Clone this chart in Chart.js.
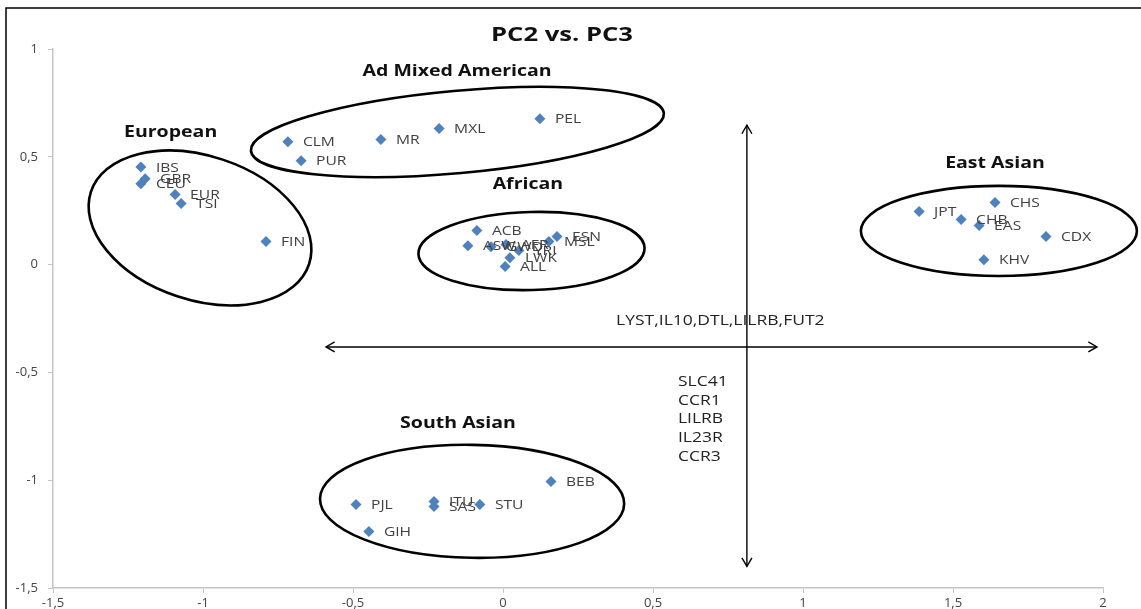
<!DOCTYPE html>
<html>
<head>
<meta charset="utf-8">
<title>PC2 vs. PC3</title>
<script src="https://cdn.jsdelivr.net/npm/chart.js@4.4.1/dist/chart.umd.min.js"></script>
<style>
  html, body { margin: 0; padding: 0; background: #fff; }
  canvas { display: block; }
</style>
</head>
<body>
<canvas id="pcChart" width="1141" height="609"></canvas>
<script>
// population codes with their PC2 (x) and PC3 (y) scores
const popCodes = ['IBS', 'GBR', 'CEU', 'EUR', 'TSI', 'FIN',
  'CLM', 'PUR', 'MR', 'MXL', 'PEL',
  'ACB', 'ASW', 'GWD', 'AFR', 'YRI', 'LWK', 'ALL', 'MSL', 'ESN',
  'JPT', 'CHS', 'CHB', 'EAS', 'CDX', 'KHV',
  'BEB', 'PJL', 'ITU', 'SAS', 'STU', 'GIH'];
const pc2Values = [-1.207, -1.193, -1.207, -1.093, -1.073, -0.79,
  -0.717, -0.673, -0.407, -0.213, 0.123,
  -0.087, -0.117, -0.04, 0.01, 0.053, 0.023, 0.007, 0.153, 0.18,
  1.387, 1.64, 1.527, 1.587, 1.81, 1.603,
  0.16, -0.49, -0.23, -0.23, -0.077, -0.447];
const pc3Values = [0.453, 0.398, 0.375, 0.325, 0.283, 0.107,
  0.57, 0.482, 0.58, 0.631, 0.677,
  0.158, 0.088, 0.083, 0.093, 0.065, 0.032, -0.009, 0.107, 0.13,
  0.246, 0.288, 0.209, 0.181, 0.13, 0.023,
  -1.006, -1.113, -1.099, -1.122, -1.113, -1.238];

const xTickLabels = ['-1,5', '-1', '-0,5', '0', '0,5', '1', '1,5', '2'];
const yTickLabels = ['-1,5', '-1', '-0,5', '0', '0,5', '1'];

// group names and their clusters (centre, half axes in axis units, tilt in degrees)
const groupNames = ['European', 'Ad Mixed American', 'African', 'East Asian', 'South Asian'];
const groupLabelPos = [[-1.108, 0.611], [-0.153, 0.894], [0.083, 0.37], [1.64, 0.471], [-0.15, -0.735]];
const clusterCentres = [[-1.01, 0.17], [-0.152, 0.615], [0.095, 0.063], [1.653, 0.156], [-0.103, -1.098]];
const clusterAxes = [[0.383, 0.334], [0.691, 0.191], [0.377, 0.181], [0.46, 0.209], [0.507, 0.262]];
const clusterTilt = [18.4, -5.2, -1.5, 0, 1];

// gene annotations and the two double arrows
const geneRow = 'LYST,IL10,DTL,LILRB,FUT2';
const geneList = ['SLC41', 'CCR1', 'LILRB', 'IL23R', 'CCR3'];
const arrowH = [[-0.59, -0.382], [1.98, -0.382]];
const arrowV = [[0.813, 0.647], [0.813, -1.40]];

const FONT = '"Open Sans", "DejaVu Sans", sans-serif';

// the source picture is a little stretched sideways, so text is widened too
function wideText(ctx, text, x, y, sx) {
  ctx.save();
  ctx.translate(x, y);
  ctx.scale(sx, 1);
  ctx.fillText(text, 0, 0);
  ctx.restore();
}

function drawArrowHead(ctx, x, y, angle) {
  const len = 10, spread = Math.PI / 6;
  ctx.beginPath();
  ctx.moveTo(x - len * Math.cos(angle - spread), y - len * Math.sin(angle - spread));
  ctx.lineTo(x, y);
  ctx.lineTo(x - len * Math.cos(angle + spread), y - len * Math.sin(angle + spread));
  ctx.stroke();
}

function drawArrow(ctx, xs, ys, pts) {
  const x1 = xs.getPixelForValue(pts[0][0]), y1 = ys.getPixelForValue(pts[0][1]);
  const x2 = xs.getPixelForValue(pts[1][0]), y2 = ys.getPixelForValue(pts[1][1]);
  ctx.beginPath();
  ctx.moveTo(x1, y1);
  ctx.lineTo(x2, y2);
  ctx.stroke();
  const a = Math.atan2(y2 - y1, x2 - x1);
  drawArrowHead(ctx, x2, y2, a);
  drawArrowHead(ctx, x1, y1, a + Math.PI);
}

const decorPlugin = {
  id: 'decor',
  beforeDatasetsDraw(chart) {
    const { ctx, scales: { x, y } } = chart;
    ctx.save();
    // outer frame
    ctx.strokeStyle = '#000';
    ctx.lineWidth = 1.5;
    ctx.strokeRect(6, 8, 1300, 800);
    // cluster ellipses
    ctx.lineWidth = 2.6;
    clusterCentres.forEach((c, i) => {
      const cx = x.getPixelForValue(c[0]);
      const cy = y.getPixelForValue(c[1]);
      const rx = Math.abs(x.getPixelForValue(c[0] + clusterAxes[i][0]) - cx);
      const ry = Math.abs(y.getPixelForValue(c[1] + clusterAxes[i][1]) - cy);
      ctx.beginPath();
      ctx.ellipse(cx, cy, rx, ry, clusterTilt[i] * Math.PI / 180, 0, Math.PI * 2);
      ctx.stroke();
    });
    // arrows
    ctx.lineWidth = 1.4;
    drawArrow(ctx, x, y, arrowH);
    drawArrow(ctx, x, y, arrowV);
    ctx.restore();
  },
  afterDatasetsDraw(chart) {
    const { ctx, scales: { x, y } } = chart;
    ctx.save();
    ctx.textBaseline = 'middle';

    // point labels
    ctx.fillStyle = '#404040';
    ctx.font = '13px ' + FONT;
    ctx.textAlign = 'left';
    popCodes.forEach((code, i) => {
      wideText(ctx, code, x.getPixelForValue(pc2Values[i]) + 15, y.getPixelForValue(pc3Values[i]) + 1, 1.2);
    });

    // title
    ctx.fillStyle = '#111';
    ctx.textAlign = 'center';
    ctx.font = 'bold 20px ' + FONT;
    wideText(ctx, 'PC2 vs. PC3', 562, 35, 1.28);

    // group names
    ctx.font = 'bold 16px ' + FONT;
    groupNames.forEach((g, i) => {
      wideText(ctx, g, x.getPixelForValue(groupLabelPos[i][0]), y.getPixelForValue(groupLabelPos[i][1]), 1.22);
    });

    // gene annotations
    ctx.fillStyle = '#222';
    ctx.textAlign = 'left';
    ctx.font = '14px ' + FONT;
    wideText(ctx, geneRow, x.getPixelForValue(0.377), y.getPixelForValue(-0.262), 1.25);
    geneList.forEach((g, i) => {
      wideText(ctx, g, x.getPixelForValue(0.583), y.getPixelForValue(-0.544) + i * 18.7, 1.25);
    });
    ctx.restore();
  }
};

const ctx = document.getElementById('pcChart').getContext('2d');
const chart = new Chart(ctx, {
  type: 'scatter',
  data: {
    datasets: [{
      label: 'PC2 vs. PC3',
      data: popCodes.map((c, i) => ({ x: pc2Values[i], y: pc3Values[i] })),
      pointStyle: 'rectRot',
      pointRadius: 5.5,
      backgroundColor: '#4F81BD',
      borderColor: '#4F81BD',
      borderWidth: 0
    }]
  },
  options: {
    responsive: false,
    animation: false,
    devicePixelRatio: 1,
    layout: { padding: { top: 49, right: 38, left: 0, bottom: 0 } },
    plugins: {
      legend: { display: false },
      tooltip: { enabled: false }
    },
    scales: {
      x: {
        type: 'linear',
        min: -1.5,
        max: 2,
        ticks: {
          stepSize: 0.5,
          padding: 2,
          color: '#444',
          font: { family: FONT, size: 13 },
          maxRotation: 0,
          callback: (v, i) => xTickLabels[i]
        },
        grid: { drawOnChartArea: false, tickLength: 5, color: '#c4c4c4' },
        border: { color: '#c4c4c4', width: 1.5 },
        afterFit: s => { s.height = 21; }
      },
      y: {
        type: 'linear',
        min: -1.5,
        max: 1,
        ticks: {
          stepSize: 0.5,
          padding: 10,
          color: '#444',
          font: { family: FONT, size: 13 },
          callback: (v, i) => yTickLabels[i]
        },
        grid: { drawOnChartArea: false, tickLength: 5, color: '#c4c4c4' },
        border: { color: '#c4c4c4', width: 1.5 },
        afterFit: s => { s.width = 53; }
      }
    }
  },
  plugins: [decorPlugin]
});
</script>
</body>
</html>
